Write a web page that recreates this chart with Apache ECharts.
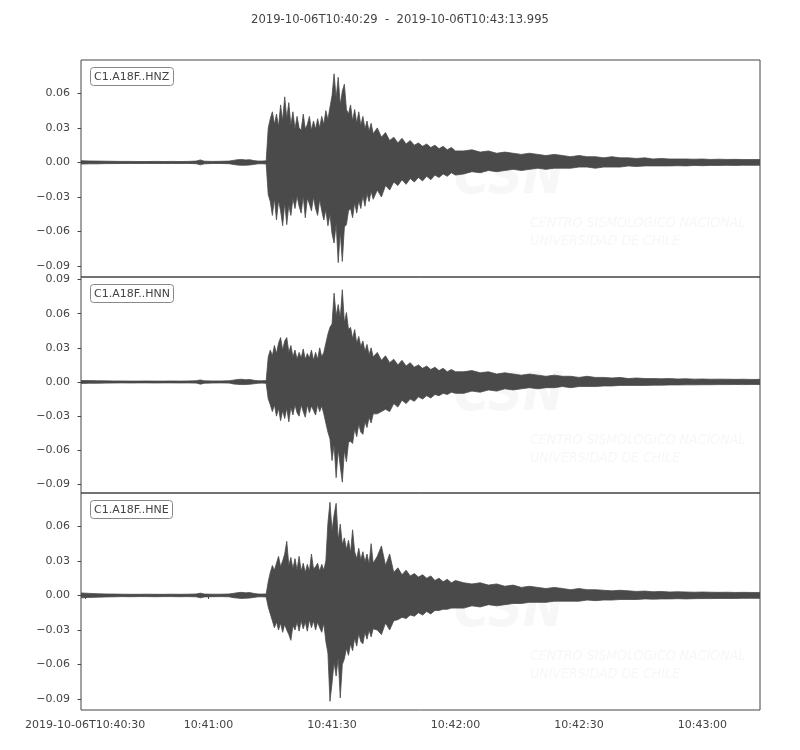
<!DOCTYPE html>
<html lang="en">
<head>
    <meta charset="UTF-8">
    <title>C1.A18F</title>
    <script src="https://cdn.jsdelivr.net/npm/echarts@6/dist/echarts.min.js"></script>
    <style>
        html, body {
            margin: 0;
            height: 100%;
            background: #fff;
        }
    </style>
</head>
<body>
<div id="main" style="width: 800px;height: 750px"></div>
</body>
</html>
<script>
    // sample times, seconds after 10:40:00
    var secs = [29, 31, 33, 35, 37, 39, 41, 43, 45, 47, 49, 51, 53, 55, 57, 58, 59, 61, 63, 65, 66, 67, 68, 69, 70, 71, 72, 73, 74,
        74.5, 75, 75.5, 76, 76.5, 77, 77.5, 78, 78.5, 79, 79.5, 80, 80.5, 81, 81.5, 82, 82.5, 83, 83.5, 84, 84.5, 85, 85.5, 86, 86.5, 87,
        87.5, 88, 88.5, 89, 89.5, 90, 90.5, 91, 91.5, 92, 92.5, 93, 93.5, 94, 94.5, 95, 95.5, 96, 96.5, 97, 97.5, 98, 98.5, 99, 99.5, 100,
        101, 102, 103, 104, 105, 106, 107, 108, 109, 110, 111, 112, 113, 114, 115, 116, 117, 118, 119, 120,
        122, 124, 126, 128, 130, 132, 134, 136, 138, 140, 142, 144, 146, 148, 150, 152, 154, 156, 158, 160, 162, 164, 166, 168, 170,
        172, 174, 176, 178, 180, 182, 184, 186, 188, 190, 192, 194];

    // upper / lower envelope of each trace
    var hnzHi = [.0015, .0013, .0012, .0011, .0010, .0009, .0009, .0008, .0008, .0009, .0008, .0009, .0008, .0009, .0012, .0022, .0011, .0009, .0010, .0012, .0018, .0024, .0026, .0022, .0024, .0016, .0012, .0012, .0014,
        .030, .038, .044, .033, .042, .031, .050, .036, .057, .038, .052, .032, .044, .029, .040, .030, .028, .042, .029, .033, .040, .028, .036, .029, .038, .030,
        .040, .033, .045, .037, .048, .058, .077, .056, .074, .050, .062, .068, .046, .042, .050, .036, .046, .034, .044, .032, .040, .029, .036, .027, .034, .025,
        .030, .022, .026, .019, .022, .017, .021, .016, .019, .015, .017, .014, .016, .013, .015, .012, .014, .011, .013, .010,
        .010, .011, .009, .010, .008, .009, .008, .007, .008, .007, .006, .007, .006, .005, .006, .005, .005, .004, .005, .004, .004, .0035, .004, .003, .0035,
        .003, .003, .003, .0028, .003, .0026, .0028, .0026, .0027, .0025, .0026, .0025];
    var hnzLo = [-.0014, -.0012, -.0012, -.0010, -.0010, -.0009, -.0008, -.0009, -.0008, -.0008, -.0009, -.0008, -.0009, -.0008, -.0011, -.0021, -.0012, -.0009, -.0009, -.0011, -.0017, -.0023, -.0025, -.0024, -.0022, -.0017, -.0012, -.0011, -.0013,
        -.028, -.034, -.046, -.031, -.050, -.033, -.042, -.055, -.035, -.054, -.037, -.046, -.031, -.040, -.029, -.038, -.044, -.029, -.048, -.031, -.036, -.042, -.030, -.040, -.046, -.032,
        -.042, -.050, -.041, -.055, -.045, -.062, -.070, -.053, -.087, -.060, -.086, -.056, -.054, -.042, -.040, -.048, -.035, -.044, -.033, -.040, -.029, -.038, -.027, -.034, -.025, -.032,
        -.024, -.030, -.020, -.024, -.017, -.020, -.015, -.019, -.014, -.017, -.013, -.016, -.012, -.015, -.011, -.013, -.010, -.012, -.009, -.011,
        -.010, -.008, -.009, -.007, -.008, -.007, -.006, -.007, -.006, -.005, -.006, -.005, -.005, -.005, -.004, -.004, -.005, -.004, -.004, -.004, -.003, -.0035, -.003, -.003, -.003,
        -.003, -.0028, -.003, -.0026, -.0028, -.0026, -.0026, -.0025, -.0026, -.0024, -.0025, -.0024];

    var hnnHi = [.0013, .0012, .0011, .0010, .0009, .0009, .0008, .0008, .0009, .0008, .0008, .0009, .0008, .0009, .0011, .0018, .0010, .0009, .0009, .0011, .0016, .0022, .0024, .0020, .0022, .0015, .0011, .0011, .0012,
        .022, .028, .023, .032, .025, .034, .039, .028, .036, .039, .026, .032, .022, .028, .020, .026, .021, .029, .020, .025, .021, .028, .019, .026, .020, .030,
        .022, .026, .034, .042, .048, .051, .078, .058, .068, .056, .081, .052, .061, .046, .048, .038, .046, .034, .040, .031, .036, .027, .033, .024, .030, .022,
        .026, .019, .023, .017, .020, .015, .019, .014, .017, .013, .015, .012, .014, .011, .013, .010, .012, .009, .011, .009,
        .009, .010, .008, .009, .007, .008, .007, .006, .007, .006, .005, .006, .005, .005, .004, .005, .004, .004, .0035, .004, .003, .0035, .003, .003, .0028,
        .003, .0026, .0028, .0025, .0026, .0024, .0025, .0024, .0023, .0024, .0022, .0023];
    var hnnLo = [-.0013, -.0011, -.0011, -.0010, -.0009, -.0008, -.0009, -.0008, -.0008, -.0009, -.0008, -.0008, -.0009, -.0008, -.0010, -.0019, -.0011, -.0009, -.0008, -.0010, -.0017, -.0021, -.0023, -.0022, -.0020, -.0016, -.0011, -.0010, -.0012,
        -.015, -.020, -.026, -.020, -.030, -.023, -.034, -.025, -.032, -.023, -.035, -.022, -.029, -.020, -.027, -.030, -.020, -.026, -.031, -.020, -.027, -.021, -.025, -.029, -.020, -.026,
        -.021, -.028, -.036, -.044, -.050, -.069, -.055, -.084, -.059, -.074, -.088, -.060, -.070, -.053, -.052, -.054, -.041, -.048, -.037, -.044, -.046, -.035, -.040, -.031, -.036, -.028,
        -.028, -.026, -.024, -.026, -.019, -.022, -.016, -.019, -.015, -.017, -.013, -.015, -.012, -.014, -.011, -.012, -.010, -.011, -.009, -.010,
        -.010, -.008, -.009, -.007, -.008, -.006, -.007, -.006, -.005, -.006, -.005, -.005, -.004, -.005, -.004, -.004, -.004, -.0035, -.0035, -.003, -.003, -.003, -.003, -.0028, -.0028,
        -.0026, -.0026, -.0025, -.0025, -.0024, -.0024, -.0023, -.0023, -.0022, -.0023, -.0022, -.0022];

    var hneHi = [.0022, .0018, .0015, .0013, .0012, .0011, .0010, .0010, .0011, .0010, .0010, .0011, .0010, .0011, .0013, .0020, .0012, .0011, .0011, .0013, .0018, .0024, .0027, .0023, .0025, .0018, .0013, .0012, .0013,
        .012, .020, .026, .022, .028, .034, .025, .030, .036, .047, .026, .033, .023, .032, .022, .034, .021, .028, .020, .027, .021, .036, .023, .025, .028, .021,
        .027, .022, .030, .063, .081, .056, .070, .080, .048, .062, .044, .050, .040, .048, .037, .057, .038, .032, .041, .031, .038, .029, .036, .027, .045, .028,
        .034, .043, .026, .036, .020, .024, .018, .022, .017, .019, .016, .018, .015, .017, .013, .015, .012, .014, .011, .013,
        .011, .010, .011, .009, .010, .008, .009, .007, .008, .007, .006, .007, .006, .005, .006, .005, .005, .0045, .004, .0045, .004, .0035, .0038, .0032, .0035,
        .003, .0032, .003, .0028, .003, .0028, .0027, .0028, .0026, .0027, .0026, .0026];
    var hneLo = [-.0021, -.0017, -.0015, -.0013, -.0012, -.0010, -.0011, -.0010, -.0010, -.0011, -.0010, -.0010, -.0011, -.0010, -.0012, -.0021, -.0013, -.0011, -.0010, -.0012, -.0019, -.0023, -.0026, -.0024, -.0022, -.0017, -.0012, -.0012, -.0013,
        -.010, -.016, -.022, -.028, -.023, -.030, -.024, -.032, -.025, -.030, -.034, -.039, -.026, -.030, -.023, -.031, -.022, -.029, -.023, -.031, -.021, -.028, -.022, -.030, -.023, -.028,
        -.032, -.024, -.040, -.050, -.092, -.076, -.058, -.070, -.054, -.089, -.060, -.055, -.046, -.052, -.042, -.048, -.037, -.044, -.033, -.040, -.042, -.032, -.038, -.030, -.036, -.029,
        -.030, -.034, -.024, -.030, -.022, -.021, -.019, -.020, -.017, -.018, -.015, -.017, -.014, -.016, -.013, -.013, -.012, -.012, -.011, -.011,
        -.011, -.009, -.010, -.008, -.009, -.008, -.007, -.007, -.006, -.006, -.006, -.005, -.005, -.005, -.005, -.004, -.0045, -.004, -.004, -.0035, -.0035, -.0035, -.003, -.0032, -.003,
        -.003, -.0028, -.003, -.0028, -.0027, -.0027, -.0026, -.0026, -.0026, -.0025, -.0025, -.0025];

    var channels = ['C1.A18F..HNZ', 'C1.A18F..HNN', 'C1.A18F..HNE'];
    var traces = [[hnzHi, hnzLo], [hnnHi, hnnLo], [hneHi, hneLo]];
    var yTicks = [-0.09, -0.06, -0.03, 0, 0.03, 0.06, 0.09];
    var xTicks = [30, 60, 90, 120, 150, 180];

    var font = 'DejaVu Sans';
    var ink = '#444';
    var wave = '#4a4a4a';
    var mark = '#f7f7f7';
    var panelTop = [60, 277, 493];
    var panelH = [217, 216, 217];
    var yMin = [-0.0995, -0.0975, -0.0995];
    var yMax = [0.089, 0.0922, 0.089];

    function pad(n) {
        return (n < 10 ? '0' : '') + n;
    }

    function timeLabel(v) {
        var m = Math.floor(v / 60);
        var s = Math.round(v - m * 60);
        var txt = '10:' + pad(40 + m) + ':' + pad(s);
        return v === xTicks[0] ? '2019-10-06T' + txt : txt;
    }

    var myChart = echarts.init(document.getElementById('main'));
    var grids = [], xAxes = [], yAxes = [], series = [], graphics = [];
    var titles = [{
        text: '2019-10-06T10:40:29  -  2019-10-06T10:43:13.995',
        left: 'center',
        top: 14,
        padding: 0,
        textStyle: {fontFamily: font, fontSize: 11.6, fontWeight: 'normal', color: ink}
    }];

    for (var i = 0; i < 3; i++) {
        var last = i === 2;
        grids.push({
            left: 81, right: 40, top: panelTop[i], height: panelH[i],
            show: true, borderColor: ink, borderWidth: 1, backgroundColor: 'transparent'
        });
        xAxes.push({
            type: 'value', gridIndex: i, min: 29, max: 193.995,
            axisLine: {show: false},
            splitLine: {show: false},
            axisTick: {show: last, customValues: xTicks, length: 3.5, lineStyle: {color: ink}},
            axisLabel: {
                show: last, customValues: xTicks, margin: 10, formatter: timeLabel,
                fontFamily: font, fontSize: 11, color: ink
            }
        });
        var ticks = yTicks.filter(function (v) {
            return v >= yMin[i] && v <= yMax[i];
        });
        yAxes.push({
            type: 'value', gridIndex: i, min: yMin[i], max: yMax[i],
            axisLine: {show: false},
            splitLine: {show: false},
            axisTick: {show: true, customValues: ticks, length: 3.5, lineStyle: {color: ink}},
            axisLabel: {
                customValues: ticks, margin: 11,
                formatter: function (v) {
                    return v.toFixed(2).replace('-', '\u2212');
                },
                fontFamily: font, fontSize: 11, color: ink
            }
        });
        for (var k = 0; k < 2; k++) {
            var env = traces[i][k];
            series.push({
                type: 'line', xAxisIndex: i, yAxisIndex: i, z: 3,
                showSymbol: false, silent: true,
                data: secs.map(function (s, j) {
                    return [s, env[j]];
                }),
                lineStyle: {color: wave, width: 0.8},
                // the two halves overlap a little so no seam shows at zero
                areaStyle: {color: wave, opacity: 1, origin: k === 0 ? -0.0006 : 0.0006}
            });
        }
        titles.push({
            text: channels[i],
            left: 90, top: panelTop[i] + 7,
            padding: [5, 4, 3, 4],
            borderColor: '#888', borderWidth: 1, borderRadius: 3,
            backgroundColor: '#fff',
            textStyle: {fontFamily: font, fontSize: 11, fontWeight: 'normal', color: ink}
        });

        // faint CSN watermark behind the traces
        var dy = panelTop[i] - 60;
        graphics.push({
            type: 'text', left: 454, top: 152 + dy, z: 0, silent: true,
            style: {text: 'CSN', font: 'italic bold 54px "DejaVu Sans Condensed", "DejaVu Sans"', fill: mark}
        });
        graphics.push({
            type: 'text', left: 530, top: 216 + dy, z: 0, silent: true,
            style: {text: 'CENTRO SISMOLÓGICO NACIONAL', font: 'italic 14px "DejaVu Sans Condensed", "DejaVu Sans"', fill: mark}
        });
        graphics.push({
            type: 'text', left: 530, top: 234 + dy, z: 0, silent: true,
            style: {text: 'UNIVERSIDAD DE CHILE', font: 'italic 14px "DejaVu Sans Condensed", "DejaVu Sans"', fill: mark}
        });
    }

    myChart.setOption({
        animation: false,
        backgroundColor: '#fff',
        title: titles,
        grid: grids,
        xAxis: xAxes,
        yAxis: yAxes,
        graphic: graphics,
        series: series
    });
</script>
